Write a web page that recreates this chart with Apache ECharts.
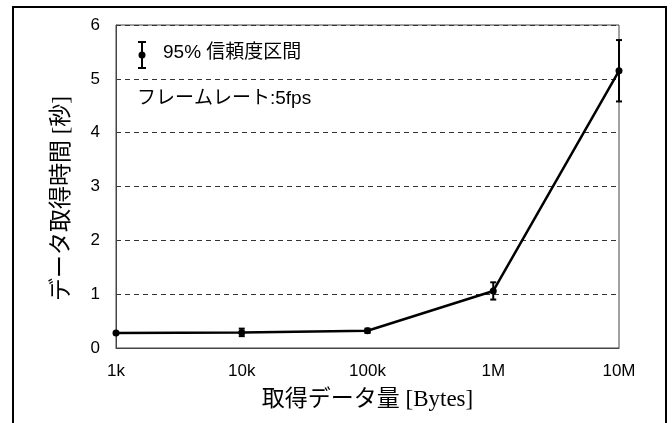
<!DOCTYPE html>
<html>
<head>
<meta charset="utf-8">
<script src="https://cdn.jsdelivr.net/npm/echarts@6/dist/echarts.min.js"></script>
<style>
  html, body { margin: 0; padding: 0; background: #fff; }
  #chart { width: 672px; height: 423px; }
</style>
</head>
<body>
<div id="chart"></div>
<script>
// data sizes (bytes) and mean fetch time (s) with 95% CI half width
const sizes = [1e3, 1e4, 1e5, 1e6, 1e7];
const sizeLabels = ['1k', '10k', '100k', '1M', '10M'];
const meanTime = [0.28, 0.29, 0.32, 1.06, 5.15];
const ciHalf = [0.02, 0.07, 0.04, 0.16, 0.57];
const yTicks = [0, 1, 2, 3, 4, 5, 6];

const labelMap = {};
sizes.forEach((s, i) => { labelMap[s] = sizeLabels[i]; });

const chart = echarts.init(document.getElementById('chart'));

const lineData = sizes.map((s, i) => [s, meanTime[i]]);
const errData = sizes.map((s, i) => [s, meanTime[i] - ciHalf[i], meanTime[i] + ciHalf[i]]);

const tickFont = 'Liberation Sans, Arial, sans-serif';
const jpFont = 'Liberation Serif, Noto Sans CJK JP, serif';

chart.setOption({
    animation: false,
    grid: {
        left: 116, right: 53, top: 25, bottom: 75,
        show: true, borderColor: '#444', borderWidth: 1
    },
    xAxis: {
        type: 'log', logBase: 10, min: 1e3, max: 1e7,
        axisLine: { lineStyle: { color: '#444', width: 1 } },
        axisTick: { show: false },
        splitLine: { show: false },
        minorTick: { show: false },
        axisLabel: {
            color: '#000', fontSize: 17, fontFamily: tickFont, margin: 15,
            formatter: v => labelMap[Math.round(v)] || ''
        },
        name: '取得データ量 [Bytes]',
        nameLocation: 'middle', nameGap: 40,
        nameTextStyle: { color: '#000', fontSize: 23, fontFamily: jpFont }
    },
    yAxis: {
        type: 'value', min: yTicks[0], max: yTicks[yTicks.length - 1], interval: 1,
        axisLine: { show: true, lineStyle: { color: '#444', width: 1 } },
        axisTick: { show: false },
        splitLine: { show: true, lineStyle: { color: '#333', type: [5, 4], width: 1 } },
        axisLabel: { color: '#000', fontSize: 17, fontFamily: tickFont, margin: 16 },
        name: 'データ取得時間 [秒]',
        nameLocation: 'middle', nameGap: 43, nameRotate: 90,
        nameTextStyle: { color: '#000', fontSize: 23, fontFamily: jpFont, padding: [0, 24, 0, 0] }
    },
    graphic: [
        { type: 'rect', shape: { x: 13, y: 7, width: 653, height: 430 }, style: { fill: 'none', stroke: '#000', lineWidth: 2 }, z: -1 },
        // legend icon: error bar with dot
        { type: 'line', shape: { x1: 142, y1: 42, x2: 142, y2: 68 }, style: { stroke: '#000', lineWidth: 2 } },
        { type: 'line', shape: { x1: 138, y1: 42, x2: 146, y2: 42 }, style: { stroke: '#000', lineWidth: 2 } },
        { type: 'line', shape: { x1: 138, y1: 68, x2: 146, y2: 68 }, style: { stroke: '#000', lineWidth: 2 } },
        { type: 'circle', shape: { cx: 142, cy: 55, r: 3.5 }, style: { fill: '#000' } },
        { type: 'text', left: 163, top: 43, style: { text: '95% 信頼度区間', fill: '#000', font: '19px Liberation Sans, Noto Sans CJK JP, sans-serif' } },
        { type: 'text', left: 137, top: 89, style: { text: 'フレームレート:5fps', fill: '#000', font: '19px Liberation Sans, Noto Sans CJK JP, sans-serif' } }
    ],
    series: [
        {
            type: 'line', data: lineData,
            lineStyle: { color: '#000', width: 2.5 },
            itemStyle: { color: '#000' },
            symbol: 'circle', symbolSize: 7,
            clip: false, z: 3
        },
        {
            type: 'custom', data: errData, clip: false, z: 4,
            renderItem: (params, api) => {
                const x = api.value(0);
                const lo = api.coord([x, api.value(1)]);
                const hi = api.coord([x, api.value(2)]);
                const w = 3;
                const st = { stroke: '#000', lineWidth: 2 };
                return {
                    type: 'group', children: [
                        { type: 'line', shape: { x1: lo[0], y1: lo[1], x2: hi[0], y2: hi[1] }, style: st },
                        { type: 'line', shape: { x1: lo[0] - w, y1: lo[1], x2: lo[0] + w, y2: lo[1] }, style: st },
                        { type: 'line', shape: { x1: hi[0] - w, y1: hi[1], x2: hi[0] + w, y2: hi[1] }, style: st }
                    ]
                };
            }
        }
    ]
});
</script>
</body>
</html>
